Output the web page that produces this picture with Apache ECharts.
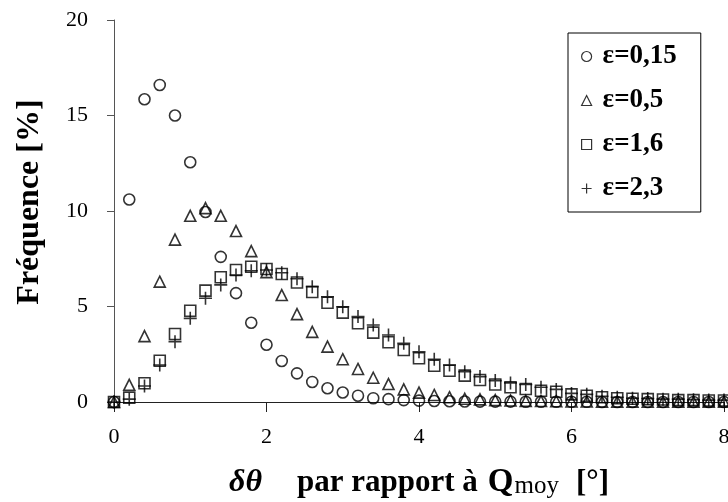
<!DOCTYPE html>
<html>
<head>
<meta charset="utf-8">
<script src="https://cdn.jsdelivr.net/npm/echarts@6/dist/echarts.min.js"></script>
<style>
  html, body { margin: 0; padding: 0; background: #fff; }
  #chart { width: 728px; height: 502px; }
</style>
</head>
<body>
<div id="chart"></div>
<script>
// angle offsets (deg)
var xValues = [0, 0.2, 0.4, 0.6, 0.8, 1.0, 1.2, 1.4, 1.6, 1.8,
    2.0, 2.2, 2.4, 2.6, 2.8, 3.0, 3.2, 3.4, 3.6, 3.8,
    4.0, 4.2, 4.4, 4.6, 4.8, 5.0, 5.2, 5.4, 5.6, 5.8,
    6.0, 6.2, 6.4, 6.6, 6.8, 7.0, 7.2, 7.4, 7.6, 7.8, 8.0];

var eps015 = [0, 10.6, 15.85, 16.6, 15.0, 12.55, 9.95, 7.6, 5.7, 4.15,
    3.0, 2.15, 1.5, 1.05, 0.72, 0.5, 0.33, 0.2, 0.15, 0.1,
    0.07, 0.05, 0.04, 0.03, 0.02, 0.02, 0.02, 0.01, 0.01, 0.01,
    0.01, 0.01, 0, 0, 0, 0, 0, 0, 0, 0, 0];
var eps05 = [0, 0.9, 3.45, 6.3, 8.5, 9.75, 10.15, 9.75, 8.95, 7.9,
    6.8, 5.6, 4.6, 3.67, 2.9, 2.24, 1.73, 1.27, 0.94, 0.66,
    0.49, 0.37, 0.25, 0.17, 0.14, 0.1, 0.08, 0.06, 0.05, 0.04,
    0.03, 0.03, 0.02, 0.02, 0.02, 0.01, 0.01, 0.01, 0.01, 0.01, 0.01];
var eps16 = [0, 0.23, 0.98, 2.16, 3.56, 4.78, 5.83, 6.53, 6.91, 7.08,
    6.96, 6.7, 6.26, 5.76, 5.2, 4.68, 4.12, 3.63, 3.13, 2.72,
    2.29, 1.9, 1.64, 1.38, 1.15, 0.92, 0.77, 0.68, 0.59, 0.54,
    0.4, 0.33, 0.25, 0.2, 0.17, 0.15, 0.13, 0.1, 0.1, 0.08, 0.08];
var eps23 = [0, 0.15, 0.84, 1.94, 3.16, 4.38, 5.43, 6.13, 6.65, 6.87,
    6.91, 6.77, 6.45, 6.04, 5.51, 4.99, 4.47, 4.03, 3.51, 3.07,
    2.63, 2.24, 1.94, 1.59, 1.33, 1.12, 1.0, 0.92, 0.77, 0.66,
    0.45, 0.4, 0.3, 0.25, 0.2, 0.18, 0.15, 0.15, 0.12, 0.1, 0.1];

var seriesNames = ['ε=0,15', 'ε=0,5', 'ε=1,6', 'ε=2,3'];
var seriesData = [eps015, eps05, eps16, eps23];
var plusPath = 'path://M0,5 L10,5 M5,0 L5,10';
var symbols = ['circle', 'triangle', 'rect', plusPath];
var sizes = [11, 11, 11, 13];

var serif = '"Liberation Serif", "DejaVu Serif", serif';

function pairs(ys) {
    var out = [];
    for (var i = 0; i < xValues.length; i++) {
        out.push([xValues[i], ys[i]]);
    }
    return out;
}

var chart = echarts.init(document.getElementById('chart'));

var series = [];
for (var i = 0; i < seriesNames.length; i++) {
    series.push({
        name: seriesNames[i],
        type: 'scatter',
        data: pairs(seriesData[i]),
        symbol: symbols[i],
        symbolSize: sizes[i],
        clip: false,
        itemStyle: {
            color: 'rgba(0,0,0,0)',
            borderColor: '#000',
            borderWidth: 1.6
        },
        emphasis: {disabled: true}
    });
}

var option = {
    animation: false,
    backgroundColor: '#fff',
    grid: {left: 114, right: 4, top: 20, bottom: 100, containLabel: false, outerBoundsMode: 'none'},
    legend: {
        orient: 'vertical',
        left: 568,
        top: 33,
        padding: [10, 24, 10, 13],
        itemGap: 17,
        itemWidth: 10,
        itemHeight: 10,
        borderColor: '#000',
        borderWidth: 1,
        backgroundColor: '#fff',
        data: seriesNames.map(function (n, k) {
            return {name: n, icon: symbols[k]};
        }),
        itemStyle: {color: 'rgba(0,0,0,0)', borderColor: '#000', borderWidth: 1.2},
        textStyle: {fontFamily: serif, fontWeight: 'bold', fontSize: 27, color: '#000', padding: [0, 0, 0, 6]}
    },
    xAxis: {
        type: 'value',
        min: 0,
        max: 8,
        interval: 2,
        splitLine: {show: false},
        axisLine: {onZero: false, lineStyle: {color: '#222', width: 1}},
        axisTick: {length: 10, lineStyle: {color: '#222'}},
        axisLabel: {fontFamily: serif, fontSize: 22, color: '#000', margin: 24},
        name: '{i|δθ}{g|par rapport à}{q|Q}{s|moy}{h|[°]}',
        nameLocation: 'middle',
        nameGap: 64,
        nameTextStyle: {
            rich: {
                i: {fontFamily: serif, fontStyle: 'italic', fontWeight: 'bold', fontSize: 32, color: '#000'},
                g: {fontFamily: serif, fontWeight: 'bold', fontSize: 31, color: '#000', padding: [0, 0, 0, 35]},
                q: {fontFamily: serif, fontWeight: 'bold', fontSize: 33, color: '#000', padding: [0, 0, 0, 10]},
                h: {fontFamily: serif, fontWeight: 'bold', fontSize: 31, color: '#000', padding: [0, 0, 0, 17]},
                s: {fontFamily: serif, fontSize: 25, color: '#000', verticalAlign: 'bottom', padding: [0, 0, 0, 1]}
            }
        }
    },
    yAxis: {
        type: 'value',
        min: 0,
        max: 20,
        interval: 5,
        splitLine: {show: false},
        axisLine: {show: true, lineStyle: {color: '#555', width: 1}},
        axisTick: {show: true, length: 7, lineStyle: {color: '#555'}},
        axisLabel: {fontFamily: serif, fontSize: 22, color: '#000', margin: 26},
        name: 'Fréquence [%]',
        nameLocation: 'middle',
        nameGap: 68,
        nameTextStyle: {fontFamily: serif, fontWeight: 'bold', fontSize: 32, color: '#000', padding: [0, 0, 0, 18]}
    },
    series: series
};

chart.setOption(option);
</script>
</body>
</html>
